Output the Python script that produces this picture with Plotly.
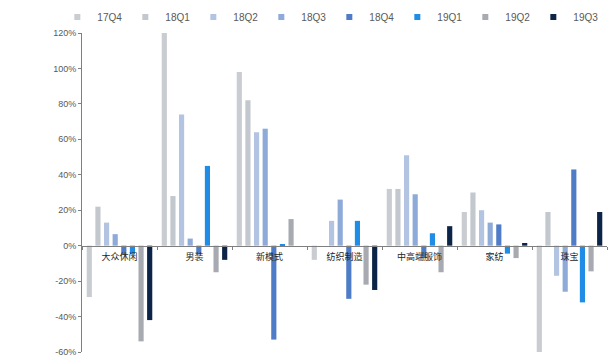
import plotly.graph_objects as go

# Sub-sector categories
categories = ["大众休闲", "男装", "新模式", "纺织制造", "中高端服饰", "家纺", "珠宝"]

# Quarterly growth rates (%), one list per quarter
q17q4 = [-29, 120, 98, -8, 32, 19, -60]
q18q1 = [22, 28, 82, 0, 32, 30, 19]
q18q2 = [13, 74, 64, 14, 51, 20, -17]
q18q3 = [6.5, 4, 66, 26, 29, 13, -26]
q18q4 = [-5, -5, -53, -30, -7, 12, 43]
q19q1 = [-5, 45, 0.5, 14, 7, -4.5, -32]
q19q2 = [-54, -15, 15, -22, -15, -7, -14.5]
q19q3 = [-42, -8, 0, -25, 11, 1.5, 19]

series = [
    ("17Q4", q17q4, "#c9ccd1"),
    ("18Q1", q18q1, "#c3c7ce"),
    ("18Q2", q18q2, "#b3c4e3"),
    ("18Q3", q18q3, "#8eaad9"),
    ("18Q4", q18q4, "#4f7cc6"),
    ("19Q1", q19q1, "#1f8ce6"),
    ("19Q2", q19q2, "#a7abb1"),
    ("19Q3", q19q3, "#0c2447"),
]

y_ticks = [-60, -40, -20, 0, 20, 40, 60, 80, 100, 120]
y_tick_text = [f"{v}%" for v in y_ticks]

fig = go.Figure()
for name, vals, color in series:
    fig.add_trace(go.Bar(
        name=name,
        x=categories,
        y=vals,
        marker=dict(color=color, line=dict(width=0)),
        legendgroup=name,
        showlegend=False,
    ))

# Small square swatches for the legend
for name, vals, color in series:
    fig.add_trace(go.Scatter(
        name=name,
        x=[None],
        y=[None],
        mode="markers",
        marker=dict(symbol="square", size=6, color=color),
        legendgroup=name,
        showlegend=True,
    ))

fig.update_layout(
    width=616,
    height=361,
    margin=dict(l=82, r=9, t=33, b=9, autoexpand=False),
    paper_bgcolor="white",
    plot_bgcolor="white",
    barmode="group",
    bargap=0.08,
    bargroupgap=0.4,
    font=dict(family="Liberation Sans, Arial, sans-serif", size=9, color="#595959"),
    legend=dict(
        orientation="h",
        x=-0.047,
        xanchor="left",
        y=1.05,
        yanchor="middle",
        font=dict(size=10, color="#595959"),
        itemwidth=30,
        entrywidth=23,
        entrywidthmode="pixels",
        tracegroupgap=0,
        bgcolor="rgba(0,0,0,0)",
    ),
    xaxis=dict(
        type="category",
        anchor="free",
        position=1 / 3,
        showline=True,
        linecolor="#7f7f7f",
        linewidth=1,
        ticks="outside",
        tickson="boundaries",
        ticklen=3,
        tickcolor="#7f7f7f",
        showgrid=False,
        ticklabelstandoff=3,
        tickfont=dict(family="Noto Sans CJK SC", size=9, color="#262626"),
    ),
    yaxis=dict(
        range=[-60, 120],
        tickvals=y_ticks,
        ticktext=y_tick_text,
        showline=True,
        linecolor="#7f7f7f",
        linewidth=1,
        ticks="outside",
        ticklen=3,
        tickcolor="#7f7f7f",
        showgrid=False,
        zeroline=False,
        tickfont=dict(size=9, color="#595959"),
    ),
)

fig.write_html("out.html")
